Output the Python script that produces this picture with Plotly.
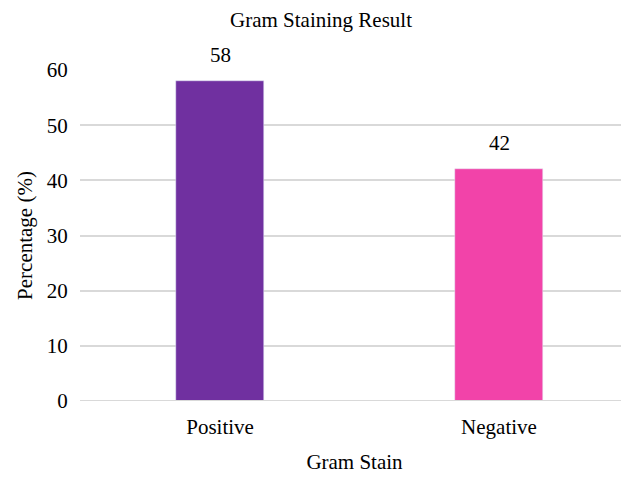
import plotly.graph_objects as go

categories = ["Positive", "Negative"]
values = [58, 42]
colors = ["#7030A0", "#F243A9"]
y_ticks = [0, 10, 20, 30, 40, 50, 60]

font = "Liberation Serif, Times New Roman, serif"
fs = 21
W, H = 621, 469  # page body has an 8px margin

fig = go.Figure(go.Bar(
    x=[0, 1], y=values, marker_color=colors, width=0.315,
    cliponaxis=False,
))

for i, v in enumerate(values):
    fig.add_annotation(x=i, y=v, text=str(v), showarrow=False,
                       yanchor="bottom", yshift=12,
                       font=dict(size=fs, family=font, color="#000000"))

fig.update_layout(
    width=W, height=H,
    margin=dict(l=72, r=0, t=62, b=76, autoexpand=False),
    paper_bgcolor="white", plot_bgcolor="white",
    font=dict(family=font, color="#000000"),
    title=dict(text="Gram Staining Result", x=313/W, xref="container", xanchor="center",
               y=1 - 12/H, yref="container", yanchor="middle", font=dict(size=fs, family=font)),
    showlegend=False,
    bargap=0,
)
fig.update_xaxes(
    range=[-0.502, 1.466], tickvals=[0, 1], ticktext=categories,
    tickfont=dict(size=fs, family=font), showgrid=False, zeroline=False,
    showline=False, ticks="outside", ticklen=7, tickcolor="white", automargin=False,
    title=dict(text="Gram Stain", font=dict(size=fs, family=font), standoff=16),
)
fig.update_yaxes(
    range=[0, 60], tickvals=y_ticks, tickfont=dict(size=fs, family=font),
    showgrid=True, gridcolor="#D9D9D9", gridwidth=2, zeroline=False,
    showline=False, ticks="outside", ticklen=7, tickcolor="white", automargin=False,
    title=dict(text="Percentage (%)", font=dict(size=fs, family=font), standoff=8),
)
fig.add_hline(y=0, line_color="#D9D9D9", line_width=2)

fig.write_html("out.html")
